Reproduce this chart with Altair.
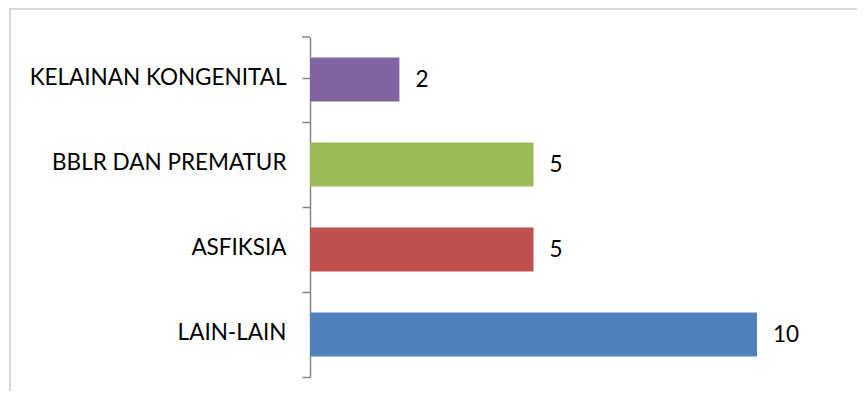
import altair as alt
import pandas as pd

categories = ["KELAINAN KONGENITAL", "BBLR DAN PREMATUR", "ASFIKSIA", "LAIN-LAIN"]
values = [2, 5, 5, 10]
colors = ["#8064A2", "#9BBB59", "#C0504D", "#4F81BD"]

df = pd.DataFrame({"cat": categories, "val": values, "color": colors})

FONT = "Lato"
FS = 22.5
AXIS_GRAY = "#868686"

y_enc = alt.Y(
    "cat:N",
    sort=categories,
    scale=alt.Scale(paddingInner=0.48, paddingOuter=0.24),
    axis=alt.Axis(
        title=None,
        ticks=True,
        bandPosition=1,
        tickExtra=True,
        tickOffset=20.4,
        labelOffset=-22.1,
        domainColor=AXIS_GRAY,
        domainWidth=1.5,
        tickColor=AXIS_GRAY,
        tickWidth=1.5,
        tickSize=8,
        labelFont=FONT,
        labelFontSize=FS,
        labelColor="black",
        labelPadding=16,
        labelLimit=0,
        grid=False,
    ),
)
x_enc = alt.X("val:Q", scale=alt.Scale(domain=[0, 10], nice=False), axis=None)

base = alt.Chart(df)

bars = base.mark_bar().encode(
    y=y_enc,
    x=x_enc,
    color=alt.Color("color:N", scale=None),
)

text = base.mark_text(align="left", baseline="middle", dx=16, font=FONT, fontSize=FS, color="black").encode(
    y=alt.Y("cat:N", sort=categories),
    x=alt.X("val:Q"),
    text=alt.Text("val:Q"),
)

frame = alt.Chart(alt.Data(values=[{}])).mark_rect(
    filled=False, stroke="#d9d9d9", strokeWidth=2
).encode(
    x=alt.value(-300),
    x2=alt.value(700),
    y=alt.value(-28),
    y2=alt.value(400),
)

top_tick = alt.Chart(alt.Data(values=[{}])).mark_rule(
    color=AXIS_GRAY, strokeWidth=1.5
).encode(
    x=alt.value(-8),
    x2=alt.value(0),
    y=alt.value(0),
)

chart = (
    alt.layer(frame, bars, text, top_tick)
    .properties(
        width=447,
        height=340,
        autosize=alt.AutoSizeParams(type="none"),
        padding={"left": 302, "top": 29, "right": 100, "bottom": 14},
    )
    .configure_view(stroke=None)
)

chart.save("out.html", embed_options={"renderer": "svg", "actions": False})
